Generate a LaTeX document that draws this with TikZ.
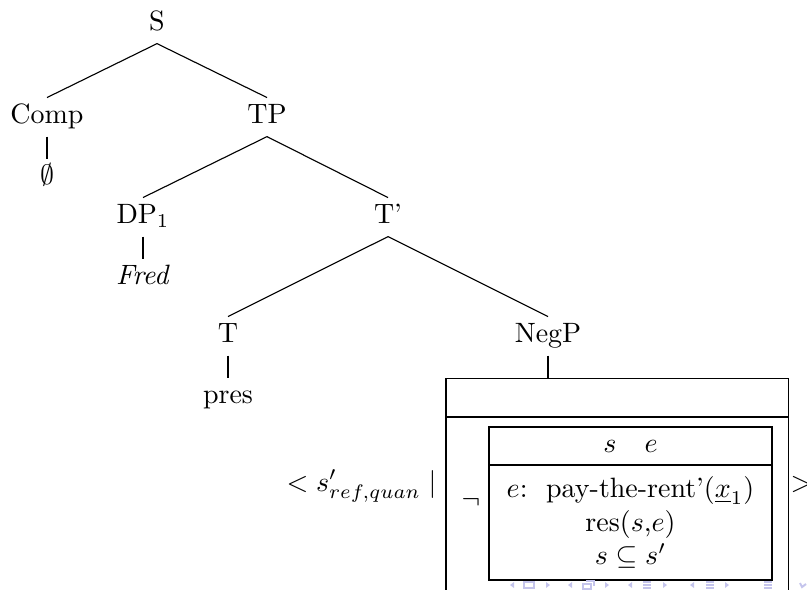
\documentclass[tikz,border=0pt]{standalone}
\usepackage{tikz}
\usetikzlibrary{positioning}
\definecolor{navcol}{RGB}{196,196,236}
\tikzset{
  cat/.style={inner sep=2pt, text height=6.9pt, text depth=2.67pt, anchor=base},
  branch/.style={draw=black, line width=0.4pt},
  drspart/.style={draw, line width=0.4pt, inner sep=0pt, outer sep=0pt, align=center},
  cond/.style={inner sep=0pt},
  navfill/.style={fill=navcol, draw=none},
  navline/.style={draw=navcol, line width=0.7pt},
}

\begin{document}
\begin{tikzpicture}[x=0.3575pt, y=-0.3575pt]
  \useasboundingbox (0,0) rectangle (807,589);
  \node[cat] (S) at (157,30) {S};
  \node[cat] (Comp) at (47,123) {Comp};
  \node[cat] (TP) at (267,123) {TP};
  \node[cat, below=8pt of Comp] (null) {$\emptyset$};
  \node[cat] (DP) at (143,223) {DP$_1$};
  \node[cat] (Tbar) at (388,223) {T'};
  \node[cat, below=8pt of DP] (fred) {\textit{Fred}};
  \node[cat] (T) at (228,342) {T};
  \node[cat] (NegP) at (548,342) {NegP};
  \node[cat, below=8pt of T] (pres) {pres};
  \draw[branch] (S.south) -- (Comp.north);
  \draw[branch] (S.south) -- (TP.north);
  \draw[branch] (Comp.south) -- (null.north);
  \draw[branch] (TP.south) -- (DP.north);
  \draw[branch] (TP.south) -- (Tbar.north);
  \draw[branch] (DP.south) -- (fred.north);
  \draw[branch] (Tbar.south) -- (T.north);
  \draw[branch] (Tbar.south) -- (NegP.north);
  \draw[branch] (T.south) -- (pres.north);

  \node[drspart, minimum width=122.3pt, minimum height=13.9pt] (outuniv) at (617,397.5) {};
  \node[drspart, minimum width=122.3pt, minimum height=62.6pt, below=0pt of outuniv] (outconds) {};
  \node[drspart, minimum width=101.2pt, minimum height=13.6pt] (inuniv) at (630.5,446) {$s\quad e$};
  \node[drspart, minimum width=101.2pt, minimum height=41.1pt, below=0pt of inuniv] (inconds)
    {$e$:\ \ pay-the-rent'($\underline{x}_1$)\\ res($s$,$e$)\\ $s\subseteq s'$};
  \node[cond] (neg) at (471,502) {$\neg$};
  \node[cond, anchor=base east] (sref) at (437,491) {$< s'_{ref,quan} \mid$};
  \node[cond, anchor=base west] (close) at (790,491) {$>$};
  \draw[branch] (NegP.south) -- (NegP.south |- outuniv.north);

  \fill[navfill] (514,582) -- (514,588) -- (510,585) -- cycle;
  \draw[navline] (524,582) rectangle (534,588);
  \fill[navfill] (546,582) -- (546,588) -- (550,585) -- cycle;
  \fill[navfill] (572,582) -- (572,588) -- (568,585) -- cycle;
  \draw[navline] (583,584) rectangle (591,589);
  \draw[navline] (586,581) -- (594,581) -- (594,586);
  \fill[navfill] (605,582) -- (605,588) -- (609,585) -- cycle;
  \fill[navfill] (632,582) -- (632,588) -- (628,585) -- cycle;
  \draw[navline] (643,582) -- (651,582) (643,585) -- (651,585) (643,588) -- (651,588);
  \fill[navfill] (663,582) -- (663,588) -- (667,585) -- cycle;
  \fill[navfill] (694,582) -- (694,588) -- (690,585) -- cycle;
  \draw[navline] (706,582) -- (714,582) (706,585) -- (714,585) (706,588) -- (714,588);
  \fill[navfill] (725,582) -- (725,588) -- (729,585) -- cycle;
  \draw[navline] (764,582) -- (772,582) (764,585) -- (772,585) (764,588) -- (772,588);
  \draw[navline] (800,583) -- (802,587) -- (806,584);
\end{tikzpicture}
\end{document}
